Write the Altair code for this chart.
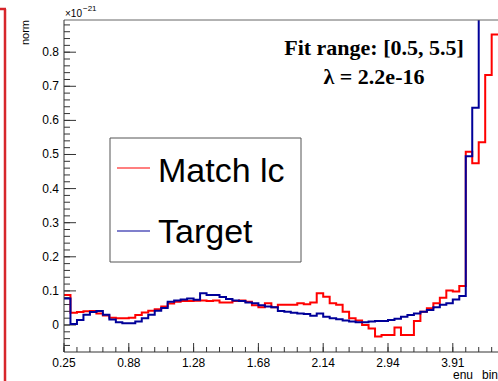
import altair as alt
import numpy as np
import pandas as pd

# ---- histogram contents (one value per enu bin, units of 1e-21) ----
bin_labels = ["0.25", "0.88", "1.28", "1.68", "2.14", "2.94", "3.91"]

match_lc = [
    0.088, 0.036, 0.038, 0.040, 0.041, 0.034, 0.028, 0.021, 0.020, 0.020,
    0.021, 0.029, 0.037, 0.042, 0.046, 0.054, 0.063, 0.068, 0.070, 0.070,
    0.071, 0.072, 0.070, 0.072, 0.066, 0.066, 0.070, 0.072, 0.068, 0.058,
    0.052, 0.064, 0.052, 0.059, 0.059, 0.059, 0.064, 0.061, 0.066, 0.093,
    0.083, 0.064, 0.059, 0.039, 0.020, 0.013, 0.000, -0.010, -0.034, -0.029,
    -0.029, -0.007, -0.029, -0.029, 0.012, 0.039, 0.049, 0.064, 0.080, 0.101,
    0.098, 0.114, 0.508, 0.474, 0.536, 0.733, 0.852,
]

target = [
    0.078, 0.003, 0.015, 0.030, 0.038, 0.041, 0.030, 0.016, 0.008, 0.005,
    0.005, 0.010, 0.020, 0.030, 0.042, 0.050, 0.068, 0.072, 0.075, 0.078,
    0.074, 0.093, 0.088, 0.088, 0.082, 0.076, 0.072, 0.070, 0.066, 0.064,
    0.058, 0.054, 0.052, 0.041, 0.039, 0.036, 0.034, 0.032, 0.027, 0.034,
    0.024, 0.020, 0.017, 0.013, 0.010, 0.008, 0.008, 0.010, 0.012, 0.012,
    0.015, 0.018, 0.024, 0.029, 0.034, 0.039, 0.044, 0.052, 0.059, 0.064,
    0.075, 0.085, 0.495, 0.637, 1.050, 1.100, 1.100,
]

series_names = ["Match lc", "Target"]
series_colors = ["#ff0000", "#000099"]


def step_frame(values, name):
    # left edges of every bin plus the closing right edge of the last one
    edges = list(range(len(values) + 1))
    vals = list(values) + [values[-1]]
    return pd.DataFrame({"bin": edges, "value": vals, "series": name})


hist = pd.concat([step_frame(match_lc, series_names[0]),
                  step_frame(target, series_names[1])], ignore_index=True)

W, H = 434, 332
BIN_PX = 6.48
x_scale = alt.Scale(domain=[0, W / BIN_PX], nice=False, zero=False)
y_scale = alt.Scale(domain=[-0.0792, 0.8944], nice=False, zero=False)

AXIS_COLOR = "#333333"
FONT = "Liberation Sans"
one = pd.DataFrame({"a": [0]})

lines = alt.Chart(hist).mark_line(interpolate="step-after", strokeWidth=2, clip=True).encode(
    x=alt.X("bin:Q", scale=x_scale, axis=None),
    y=alt.Y("value:Q", scale=y_scale, axis=None),
    color=alt.Color("series:N", scale=alt.Scale(domain=series_names, range=series_colors), legend=None),
    detail="series:N",
)

# ---- axes drawn ROOT style: inward ticks, labels outside ----
y_major = pd.DataFrame({"v": np.round(np.arange(0, 0.81, 0.1), 2)})
y_minor = pd.DataFrame({"v": np.round(np.arange(-0.06, 0.89, 0.02), 2)})
x_major = pd.DataFrame({"b": np.arange(0, 10 * len(bin_labels), 10), "label": bin_labels})
x_minor = pd.DataFrame({"b": np.arange(0, 67, 2)})

y_axis_line = alt.Chart(one).mark_rule(color=AXIS_COLOR, strokeWidth=1).encode(
    x=alt.value(0), y=alt.value(0), y2=alt.value(H))
x_axis_line = alt.Chart(one).mark_rule(color=AXIS_COLOR, strokeWidth=1).encode(
    x=alt.value(0), x2=alt.value(W), y=alt.value(H))
frame_top = alt.Chart(one).mark_rule(color="#666666", strokeWidth=1).encode(
    x=alt.value(0), x2=alt.value(W), y=alt.value(0))

ytick_major = alt.Chart(y_major).mark_rule(color=AXIS_COLOR, strokeWidth=1).encode(
    y=alt.Y("v:Q", scale=y_scale, axis=None), x=alt.value(0), x2=alt.value(12))
ytick_minor = alt.Chart(y_minor).mark_rule(color=AXIS_COLOR, strokeWidth=1).encode(
    y=alt.Y("v:Q", scale=y_scale, axis=None), x=alt.value(0), x2=alt.value(6))
ylabels = alt.Chart(y_major).mark_text(font=FONT, fontSize=12, align="right", baseline="middle",
                                       color="black").encode(
    y=alt.Y("v:Q", scale=y_scale, axis=None), x=alt.value(-5), text=alt.Text("v:Q", format=".1~f"))

xtick_major = alt.Chart(x_major).mark_rule(color=AXIS_COLOR, strokeWidth=1).encode(
    x=alt.X("b:Q", scale=x_scale, axis=None), y=alt.value(H), y2=alt.value(H - 9))
xtick_minor = alt.Chart(x_minor).mark_rule(color=AXIS_COLOR, strokeWidth=1).encode(
    x=alt.X("b:Q", scale=x_scale, axis=None), y=alt.value(H), y2=alt.value(H - 5))
xlabels = alt.Chart(x_major).mark_text(font=FONT, fontSize=12, align="center", baseline="top",
                                       color="black").encode(
    x=alt.X("b:Q", scale=x_scale, axis=None), y=alt.value(H + 6), text="label:N")

# ---- legend box ----
legend_box = alt.Chart(one).mark_rect(fill="white", stroke="#555555", strokeWidth=1).encode(
    x=alt.value(46), x2=alt.value(237), y=alt.value(118), y2=alt.value(242))
legend_red = alt.Chart(one).mark_rule(color=series_colors[0], strokeWidth=1.2).encode(
    x=alt.value(53), x2=alt.value(86), y=alt.value(148))
legend_blue = alt.Chart(one).mark_rule(color=series_colors[1], strokeWidth=1.2).encode(
    x=alt.value(53), x2=alt.value(86), y=alt.value(211))
legend_t1 = alt.Chart(one).mark_text(text=series_names[0], font=FONT, fontSize=34,
                                     align="left", baseline="alphabetic", color="black").encode(
    x=alt.value(94), y=alt.value(162))
legend_t2 = alt.Chart(one).mark_text(text=series_names[1], font=FONT, fontSize=34,
                                     align="left", baseline="alphabetic", color="black").encode(
    x=alt.value(94), y=alt.value(223))

# ---- fit annotation ----
fit1 = alt.Chart(one).mark_text(text="Fit range: [0.5, 5.5]", font="Liberation Serif", fontWeight="bold",
                                fontSize=22, align="center", baseline="alphabetic", color="black").encode(
    x=alt.value(310), y=alt.value(35))
fit2 = alt.Chart(one).mark_text(text="λ =  2.2e-16", font="Liberation Serif", fontWeight="bold",
                                fontSize=22, align="center", baseline="alphabetic", color="black").encode(
    x=alt.value(310), y=alt.value(64))

# ---- axis titles and exponent ----
ytitle = alt.Chart(one).mark_text(text="norm", font=FONT, fontSize=11, angle=270,
                                  align="right", baseline="middle", color="black").encode(
    x=alt.value(-38), y=alt.value(0))
exp_base = alt.Chart(one).mark_text(text="×10", font=FONT, fontSize=10,
                                    align="left", baseline="alphabetic", color="black").encode(
    x=alt.value(1), y=alt.value(-3))
exp_pow = alt.Chart(one).mark_text(text="−21", font=FONT, fontSize=8,
                                   align="left", baseline="alphabetic", color="black").encode(
    x=alt.value(19), y=alt.value(-9))
xtitle1 = alt.Chart(one).mark_text(text="enu", font=FONT, fontSize=12,
                                   align="left", baseline="alphabetic", color="black").encode(
    x=alt.value(389), y=alt.value(359))
xtitle2 = alt.Chart(one).mark_text(text="bin", font=FONT, fontSize=12,
                                   align="left", baseline="alphabetic", color="black").encode(
    x=alt.value(418), y=alt.value(359))

# edge of the neighbouring pad on the left
pad_edge_v = alt.Chart(one).mark_rule(color="#d7262b", strokeWidth=2.5).encode(
    x=alt.value(-59), y=alt.value(-11), y2=alt.value(361))
pad_edge_h = alt.Chart(one).mark_rule(color="#d7262b", strokeWidth=2.5).encode(
    x=alt.value(-64), x2=alt.value(-58), y=alt.value(-11))

chart = alt.layer(
    xtick_minor, xtick_major, ytick_minor, ytick_major, lines,
    frame_top, y_axis_line, x_axis_line, ylabels, xlabels,
    legend_box, legend_red, legend_blue, legend_t1, legend_t2,
    fit1, fit2, ytitle, exp_base, exp_pow, xtitle1, xtitle2, pad_edge_v, pad_edge_h,
).properties(
    width=W, height=H,
    autosize=alt.AutoSizeParams(type="none"),
    padding={"left": 64, "top": 20, "right": 0, "bottom": 29},
    background="white",
).configure_view(stroke=None)

chart.save("out.html", embed_options={"renderer": "svg", "actions": False})
